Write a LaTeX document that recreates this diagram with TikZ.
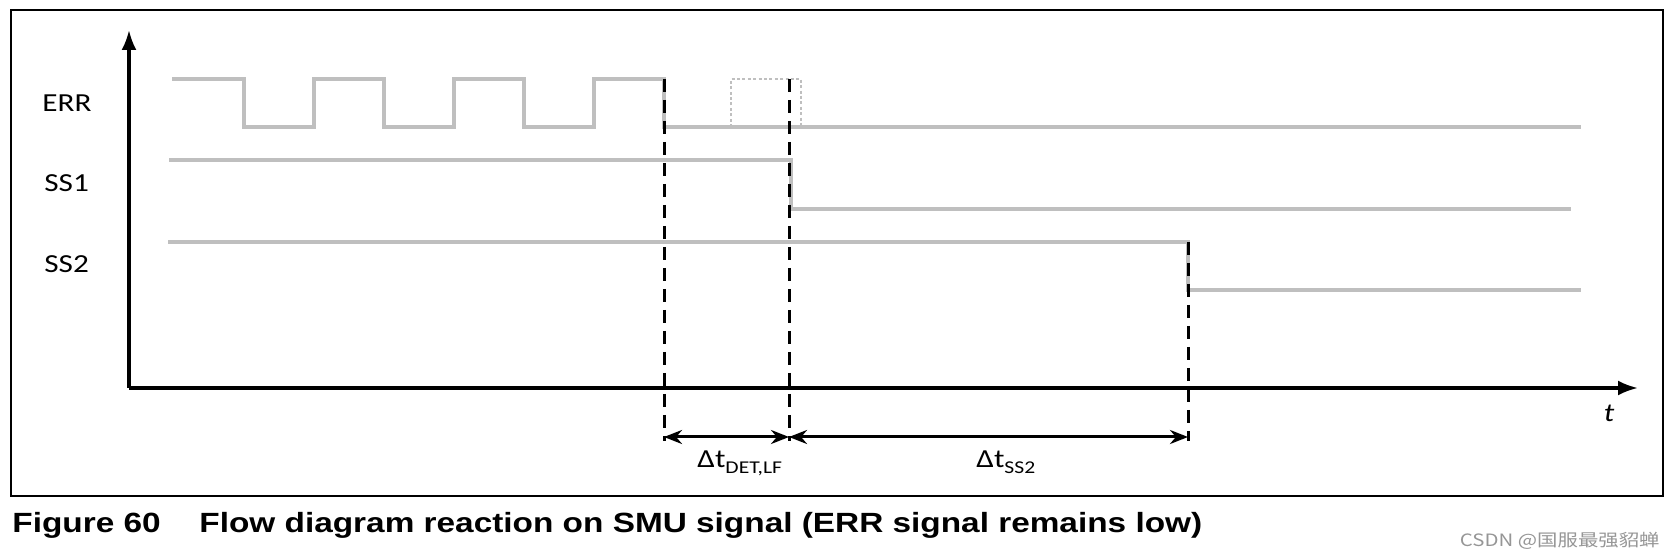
\documentclass[tikz,border=0pt]{standalone}
\usepackage{fontspec}
\setmainfont{Carlito}[FakeStretch=1.2]
\newfontfamily\capfont{Liberation Sans Bold}[FakeStretch=1.2]
\newfontfamily\wmfont{Noto Sans CJK SC}[FakeStretch=1.2]
\usepackage{xcolor}
\usepackage{tikz}
\usetikzlibrary{arrows.meta,positioning}

\definecolor{sigGray}{RGB}{191,191,191}
\definecolor{wmGray}{RGB}{150,150,150}

\begin{document}
\begin{tikzpicture}[
  x=0.5pt, y=-0.5pt,
  sig/.style={draw=sigGray, line width=2.4pt},
  ghost/.style={draw=sigGray, line width=1.2pt, dash pattern=on 1.5pt off 1.2pt},
  axis/.style={line width=1.6pt, -{Latex[length=10pt,width=7.5pt]}},
  guide/.style={line width=1.5pt, dash pattern=on 6.5pt off 4pt},
  dim/.style={line width=1.5pt, {Stealth[length=9pt,width=7pt]}-{Stealth[length=9pt,width=7pt]}},
  lbl/.style={font=\fontsize{13}{15}\selectfont, inner sep=0pt}
]
\fill[white] (0,0) rectangle (1669,560);
\useasboundingbox (0,0) rectangle (1669,560);
\draw[line width=0.75pt] (11,10) rectangle (1663,496);

% signal names
\node[lbl,anchor=base west] (err) at (42,112) {ERR};
\node[lbl,anchor=base west] (ss1) at (44,192) {SS1};
\node[lbl,anchor=base west] (ss2) at (44,273) {SS2};

% waveforms
\draw[sig] (172,79) -- (244,79) -- (244,127) -- (314,127) -- (314,79) -- (384,79) -- (384,127)
  -- (454,127) -- (454,79) -- (524,79) -- (524,127) -- (594,127) -- (594,79) -- (664,79)
  -- (664,127) -- (1581,127);
\draw[ghost] (731,127) -- (731,79) -- (801,79) -- (801,127);
\draw[sig] (169,160) -- (791,160) -- (791,209) -- (1571,209);
\draw[sig] (168,242) -- (1188,242) -- (1188,290) -- (1581,290);

% axes
\coordinate (orig) at (129,388);
\draw[axis] (orig) -- (129,30);
\draw[axis] (orig) -- (1638,388);
\node[lbl,anchor=base] (tlab) at (1609,422) {\itshape t};

% timing marks
\coordinate (det) at (664,79);
\coordinate (lf) at (789,79);
\coordinate (ss) at (1188,242);
\coordinate (detb) at (664,441);
\coordinate (lfb) at (789,441);
\coordinate (ssb) at (1188,441);
\draw[guide] (det) -- (detb);
\draw[guide] (lf) -- (lfb);
\draw[guide] (ss) -- (ssb);
\draw[dim] (664,437) -- (789,437);
\draw[dim] (789,437) -- (1188,437);
\node[lbl,anchor=base west] (tdet) at (697,467) {Δt\raisebox{-3pt}{\fontsize{9}{10}\selectfont DET,LF}};
\node[lbl,anchor=base west] (tss) at (976,467) {Δt\raisebox{-3pt}{\fontsize{9}{10}\selectfont SS2}};

% caption
\node[anchor=base west, inner sep=0pt, font=\capfont\fontsize{13.9}{16}\selectfont] (fig) at (12,532) {Figure 60};
\node[anchor=base west, inner sep=0pt, font=\capfont\fontsize{13.9}{16}\selectfont] (title) at (199,532) {Flow diagram reaction on SMU signal (ERR signal remains low)};
\node[anchor=base east, inner sep=0pt, text=wmGray, font=\wmfont\fontsize{8.5}{10}\selectfont] (wm) at (1660,546) {CSDN @国服最强貂蝉};
\end{tikzpicture}
\end{document}
